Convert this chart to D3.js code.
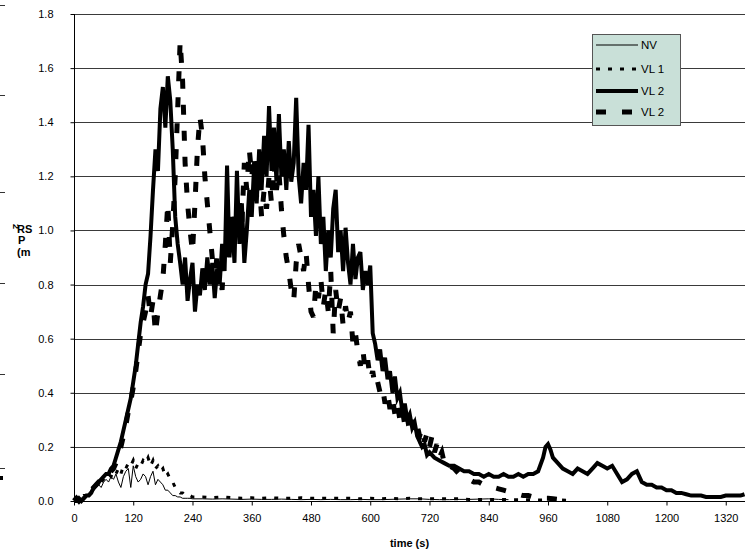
<!DOCTYPE html>
<html><head><meta charset="utf-8">
<script src="https://cdn.jsdelivr.net/npm/d3@7"></script>
<style>
html,body{margin:0;padding:0;background:#fff;}
svg{display:block;font-family:"Liberation Sans",Arial,sans-serif;}
</style></head>
<body><svg id="c" width="756" height="560"></svg>
<script>
// ---------- data ----------
const seriesNames = ["NV", "VL 1", "VL 2", "VL 2"];
const xTickValues = [0,120,240,360,480,600,720,840,960,1080,1200,1320];
const yTickValues = [0,0.2,0.4,0.6,0.8,1.0,1.2,1.4,1.6,1.8];

// NV (thin solid): 5 s steps 0..240, then 20 s steps 260..880
const nvTime = d3.range(0, 241, 5).concat(d3.range(260, 881, 20));
const nvValues = [0.00,0.00,0.01,0.01,0.02,0.02,0.03,0.04,0.04,0.05,0.06,0.05,0.07,0.08,0.07,0.09,0.08,0.10,0.07,0.05,
  0.09,0.11,0.12,0.05,0.13,0.09,0.07,0.08,0.10,0.09,0.06,0.09,0.11,0.06,0.08,0.07,0.06,0.04,0.04,0.03,
  0.02,0.02,0.015,0.015,0.01,0.01,0.01,0.01,0.008,
  0.008,0.007,0.008,0.007,0.006,0.007,0.006,0.006,0.007,0.006,0.005,0.006,0.005,0.006,0.005,0.005,0.006,0.005,0.005,0.006,0.007,0.008,0.008,0.006,0.005,0.005,0.006,0.006,0.007,0.008,0.006,0.005];

// VL 1 (small dashes): 5 s steps 0..240, then 20 s steps 260..1000
const vl1Time = d3.range(0, 241, 5).concat(d3.range(260, 1001, 20));
const vl1Values = [0.00,0.00,0.01,0.01,0.02,0.02,0.03,0.04,0.05,0.06,0.06,0.07,0.08,0.09,0.10,0.09,0.11,0.10,0.12,0.10,
  0.13,0.12,0.14,0.13,0.15,0.12,0.14,0.13,0.15,0.14,0.16,0.13,0.15,0.12,0.13,0.11,0.12,0.09,0.10,0.08,
  0.07,0.05,0.04,0.03,0.03,0.02,0.02,0.02,0.015,
  0.015,0.012,0.015,0.012,0.010,0.012,0.010,0.012,0.010,0.010,0.012,0.010,0.010,0.010,0.010,0.010,0.008,0.010,0.008,0.010,0.008,0.010,0.008,0.008,0.008,0.008,0.008,0.006,0.006,0.006,0.006,0.005,0.005,0.005,0.004,0.004,0.004,0.003];

// VL 2 (thick solid)
const vl2Time = d3.range(0, 721, 5).concat([730,740,750,760,770,780,790,800,810,820,830,840,850,860,870,880,890,900,910,920,930,940,950,955,960,965,970,980,990,1000,1010,1020,1030,1040,1050,1060,1070,1080,1090,1100,1110,1120,1130,1140,1150,1160,1170,1180,1190,1200,1210,1220,1230,1240,1250,1260,1270,1280,1290,1300,1310,1320,1330,1340,1350,1358]);
const vl2Values = [0.00,0.00,0.01,0.00,0.01,0.02,0.02,0.03,0.05,0.06,0.07,0.08,0.09,0.10,0.10,0.12,0.13,0.16,0.19,0.22,
  0.26,0.30,0.34,0.38,0.44,0.50,0.58,0.66,0.72,0.80,0.84,0.98,1.15,1.30,1.22,1.45,1.53,1.38,1.57,1.48,
  1.30,1.05,0.95,0.88,0.80,0.90,0.74,0.82,0.88,0.70,0.80,0.76,0.86,0.78,0.90,0.80,0.88,0.75,0.86,0.80,
  0.95,0.85,1.24,0.90,1.05,0.88,1.22,0.95,1.10,0.88,1.00,1.15,1.05,1.25,1.10,1.30,1.15,1.35,1.20,1.46,
  1.22,1.38,1.18,1.43,1.20,1.30,1.15,1.33,1.18,1.25,1.49,1.20,1.10,1.25,1.15,1.39,1.05,1.15,0.98,1.20,
  0.95,1.05,0.85,1.00,0.90,1.08,1.15,0.92,1.00,0.85,1.01,0.88,0.80,0.95,0.82,0.90,0.92,0.78,0.85,0.80,
  0.87,0.62,0.58,0.52,0.56,0.48,0.53,0.45,0.48,0.40,0.46,0.38,0.40,0.33,0.36,0.30,0.32,0.27,0.29,0.24,
  0.22,0.20,0.21,0.17,0.18,
  0.16,0.15,0.14,0.13,0.13,0.12,0.11,0.11,0.10,0.10,0.09,0.10,0.09,0.09,0.10,0.09,0.09,0.10,0.09,0.10,0.10,0.11,0.16,0.20,0.21,0.19,0.16,0.14,0.12,0.11,
  0.10,0.12,0.11,0.10,0.12,0.14,0.13,0.12,0.13,0.10,0.07,0.08,0.10,0.11,0.07,0.06,0.06,0.05,0.05,0.04,
  0.04,0.03,0.03,0.025,0.02,0.02,0.02,0.015,0.015,0.015,0.015,0.02,0.02,0.02,0.02,0.025];

// VL 2 (thick dashes)
const vl2bTime = d3.range(0, 761, 5).concat([770,780,790,800,810,820,830,840,850,860,870,880,890,900,910,920,930,940,950,960,970,980,990,1000]);
const vl2bValues = [0.00,0.01,0.00,0.01,0.02,0.02,0.03,0.04,0.05,0.06,0.07,0.07,0.08,0.09,0.10,0.11,0.12,0.14,0.16,0.20,
  0.24,0.28,0.33,0.37,0.42,0.48,0.55,0.62,0.66,0.70,0.76,0.68,0.74,0.62,0.70,0.76,0.82,0.95,1.10,0.88,
  1.02,1.20,1.45,1.70,1.55,1.25,1.10,1.00,0.92,1.10,1.30,1.42,1.35,1.20,1.10,1.00,0.90,0.80,0.92,0.85,
  0.78,0.95,0.88,1.00,0.92,1.05,0.98,1.10,1.02,1.25,1.15,1.30,1.20,1.28,1.12,1.18,1.05,1.15,1.08,1.20,
  1.10,1.25,1.15,1.22,1.08,0.98,0.90,0.85,0.78,0.74,0.88,0.95,0.90,0.85,0.92,0.80,0.70,0.68,0.80,0.75,
  0.82,0.72,0.78,0.70,0.85,0.62,0.78,0.70,0.75,0.65,0.72,0.66,0.70,0.58,0.62,0.55,0.50,0.56,0.48,0.52,
  0.45,0.48,0.42,0.44,0.40,0.42,0.36,0.40,0.34,0.38,0.32,0.36,0.30,0.34,0.28,0.32,0.26,0.30,0.25,0.28,
  0.24,0.27,0.22,0.25,0.20,0.24,0.18,0.21,0.16,0.18,0.14,0.15,0.13,
  0.12,0.10,0.09,0.08,0.07,0.07,0.06,0.06,0.05,0.045,0.04,0.035,0.03,0.025,0.02,0.02,0.015,0.015,0.01,0.01,0.008,0.006,0.005,0.004];

// ---------- drawing ----------
const svg = d3.select("#c");
const pLeft = 74, pRight = 745, pTop = 14, pBottom = 501;
const x = d3.scaleLinear().domain([0, 1359]).range([pLeft, pRight]);
const y = d3.scaleLinear().domain([0, 1.8]).range([pBottom, pTop]);

// gridlines
svg.append("g").selectAll("line").data(yTickValues.filter(v => v > 0)).join("line")
  .attr("x1", pLeft).attr("x2", pRight)
  .attr("y1", d => Math.round(y(d)) + 0.5).attr("y2", d => Math.round(y(d)) + 0.5)
  .attr("stroke", "#3a3a3a").attr("stroke-width", 1);

// axes
const yAxis = d3.axisLeft(y).tickValues(yTickValues).tickFormat(d => d.toFixed(1)).tickSize(4).tickPadding(17);
const gy = svg.append("g").attr("transform", `translate(${pLeft + 0.5},0)`).call(yAxis);
gy.select(".domain").remove();
gy.selectAll("line").attr("stroke", "#000");
gy.selectAll("text").attr("font-size", 11).attr("fill", "#000").attr("font-family", '"Liberation Sans",Arial,sans-serif');

const xAxis = d3.axisBottom(x).tickValues(xTickValues).tickFormat(d3.format("d")).tickSize(4).tickPadding(9);
const gx = svg.append("g").attr("transform", `translate(0,${pBottom + 0.5})`).call(xAxis);
gx.select(".domain").remove();
gx.selectAll("line").attr("stroke", "#000");
gx.selectAll("text").attr("font-size", 11).attr("fill", "#000").attr("font-family", '"Liberation Sans",Arial,sans-serif');

svg.append("line").attr("x1", pLeft + 0.5).attr("x2", pLeft + 0.5).attr("y1", pTop).attr("y2", pBottom + 1).attr("stroke", "#000");
svg.append("line").attr("x1", pLeft).attr("x2", pRight).attr("y1", pBottom + 0.5).attr("y2", pBottom + 0.5).attr("stroke", "#000");

// series
const line = d3.line().x(d => x(d[0])).y(d => y(d[1]));
const zipS = (t, v) => t.map((tt, i) => [tt, v[i]]);
const styles = [
  {w: 1, dash: null},
  {w: 3, dash: "4,8"},
  {w: 4, dash: null},
  {w: 5, dash: "10,16"}
];
const data = [zipS(nvTime, nvValues), zipS(vl1Time, vl1Values), zipS(vl2Time, vl2Values), zipS(vl2bTime, vl2bValues)];
data.forEach((d, i) => {
  svg.append("path").datum(d).attr("d", line)
    .attr("fill", "none").attr("stroke", "#000")
    .attr("stroke-width", styles[i].w)
    .attr("stroke-dasharray", styles[i].dash)
    .attr("stroke-linejoin", "miter").attr("stroke-linecap", "butt");
});

// axis titles
svg.append("text").attr("x", (pLeft + pRight) / 2).attr("y", 547).attr("text-anchor", "middle")
  .attr("font-size", 11).attr("font-weight", "bold").text("time (s)");
const yt = svg.append("g").attr("font-size", 11).attr("font-weight", "bold");
yt.append("text").attr("transform", "translate(13,224) rotate(90)").attr("font-size", 9).text("2");
yt.append("text").attr("x", 17).attr("y", 233).text("RS");
yt.append("text").attr("x", 18).attr("y", 244).text("P");
yt.append("text").attr("x", 17).attr("y", 256).text("(m");

// legend
const lg = svg.append("g");
lg.append("rect").attr("x", 592.5).attr("y", 34.5).attr("width", 88).attr("height", 91)
  .attr("fill", "#c9e0d8").attr("stroke", "#555").attr("stroke-width", 1);
const legY = [45, 69, 91, 112];
seriesNames.forEach((n, i) => {
  lg.append("line").attr("x1", 596).attr("x2", 638).attr("y1", legY[i]).attr("y2", legY[i])
    .attr("stroke", "#000").attr("stroke-width", styles[i].w).attr("stroke-dasharray", styles[i].dash);
  lg.append("text").attr("x", 641).attr("y", legY[i] + 4).attr("font-size", 11.5).text(n);
});

// left-edge marks (from neighbouring crop)
[5, 95, 192, 283, 374, 468].forEach(v => {
  svg.append("line").attr("x1", 0).attr("x2", 5).attr("y1", v + 0.5).attr("y2", v + 0.5).attr("stroke", "#333");
});
svg.append("rect").attr("x", 0).attr("y", 476).attr("width", 3).attr("height", 4).attr("fill", "#000");
</script></body></html>
